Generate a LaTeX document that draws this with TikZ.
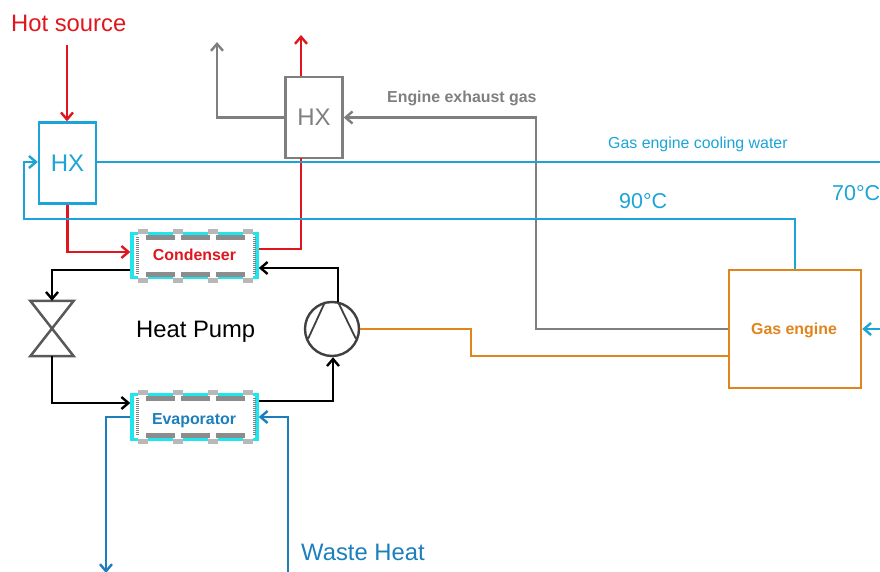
\documentclass[tikz,border=0pt]{standalone}
\usepackage{fontspec}
\setmainfont{Liberation Sans}
\usetikzlibrary{arrows.meta}
\definecolor{hotred}{HTML}{E0161E}
\definecolor{coolblue}{HTML}{1CA3D8}
\definecolor{wasteblue}{HTML}{1C7FBC}
\definecolor{exhaustgray}{HTML}{7F7F7F}
\definecolor{engineorange}{HTML}{E0851E}
\definecolor{hexcyan}{HTML}{22E4EC}
\tikzset{
  pipe/.style={line width=2.4pt, line join=miter, >={Straight Barb[length=7pt, width=12pt, line width=2.4pt]}},
  hxbox/.style={draw, line width=2.4pt, rectangle, inner sep=0pt,
    minimum width=57pt, minimum height=81pt},
  hexbox/.style={draw=hexcyan, fill=white, line width=3.5pt, rectangle, inner sep=0pt,
    minimum width=125pt},
  bigtext/.style={inner sep=0pt, font=\fontsize{23.8}{27}\selectfont},
  midtext/.style={inner sep=0pt, font=\fontsize{21.5}{24}\selectfont},
  smalltext/.style={inner sep=0pt, font=\fontsize{15.9}{18}\selectfont},
  boldtext/.style={inner sep=0pt, font=\bfseries\fontsize{15.9}{18}\selectfont}
}
\newcommand{\hexdetail}[3]{
  \begin{scope}[shift={(#1.center)}]
    \foreach \tabx in {-52,-17,18,53} {
      \fill[white] (\tabx-5,-#2) rectangle (\tabx+5,#3);
      \fill[black!28] (\tabx-5,-#2-5) rectangle (\tabx+5,-#2);
      \fill[black!28] (\tabx-5,#3) rectangle (\tabx+5,#3+5);
    }
    \foreach \barx in {-49,-14,21} {
      \fill[black!45] (\barx,-#2+1) rectangle (\barx+29,-#2+6);
      \fill[black!45] (\barx,#3-6) rectangle (\barx+29,#3-1);
    }
    \draw[black!50, line width=3pt, dash pattern=on 1pt off 1pt]
      (-57,-#2+3) -- (-57,#3-3);
    \draw[black!50, line width=3pt, dash pattern=on 1pt off 1pt]
      (60,-#2+3) -- (60,#3-3);
  \end{scope}
}
\begin{document}
\begin{tikzpicture}[x=1pt, y=-1pt]
\useasboundingbox (0,0) rectangle (880,572);

\node[hxbox, draw=coolblue, text=coolblue, font=\fontsize{24}{28}\selectfont] (hxhot) at (67.5,163) {HX};
\node[hxbox, draw=exhaustgray, text=exhaustgray, font=\fontsize{24}{28}\selectfont] (hxgas) at (314,117.5) {HX};
\node[hexbox, minimum height=44pt] (condenser) at (194.5,255.5) {};
\node[hexbox, minimum height=45pt] (evaporator) at (194.5,417) {};
\hexdetail{condenser}{22}{22}
\hexdetail{evaporator}{22}{22}
\node[boldtext, text=hotred] (condname) at (194.5,255) {Condenser};
\node[boldtext, text=wasteblue] (evapname) at (194,421) {Evaporator};
\node[draw=engineorange, line width=2.4pt, rectangle, inner sep=0pt,
   minimum width=132pt,
   minimum height=118pt] (engine) at (795,329) {};
\node[boldtext, text=engineorange] (enginename) at (794,330) {Gas engine};
\node[draw=black!75, line width=2.4pt, circle, inner sep=0pt,
   minimum size=54pt] (compressor) at (332,329) {};
\node[inner sep=0pt,
   minimum width=43pt,
   minimum height=55pt] (valve) at (52,328.5) {};

\node[bigtext, text=hotred, anchor=west] (hotsource) at (11,23) {Hot source};
\node[bigtext, anchor=west] (heatpump) at (136,332) {Heat Pump};
\node[bigtext, text=wasteblue, anchor=west] (wasteheat) at (301,552) {Waste Heat};
\node[boldtext, text=exhaustgray, anchor=west] (exhaustname) at (387,98) {Engine exhaust gas};
\node[smalltext, text=coolblue, anchor=west] (coolingname) at (608,144) {Gas engine cooling water};
\node[midtext, text=coolblue, anchor=west] (hottemp) at (619,201) {90°C};
\node[midtext, text=coolblue, anchor=west] (coldtemp) at (832,193) {70°C};

\coordinate (hotin) at (67,45);
\coordinate (hotout) at (301,35);
\coordinate (gasout) at (217,42);
\coordinate (coolright) at (880,162);
\coordinate (coolin) at (880,329);
\coordinate (wasteout) at (106,573);
\coordinate (wastein) at (288,572);

\draw[black!65, line width=2.5pt, line join=miter] (valve.north west) -- (valve.north east)
  -- (valve.south west) -- (valve.south east) -- cycle;
\draw[black!75, line width=1.8pt] (325,302) -- (308,339);
\draw[black!75, line width=1.8pt] (338,302) -- (356,339);

\draw[pipe, ->, hotred] (hotin) -- (hotin |- hxhot.north);
\draw[pipe, ->, hotred] (hxhot.south) -- (67.5,252) -- (condenser.west |- 0,252);
\draw[pipe, hotred] (condenser.east |- 0,249) -- (301,249) -- (301,158);
\draw[pipe, ->, hotred] (hotout |- hxgas.north) -- (hotout);
\draw[pipe, ->, exhaustgray] (hxgas.west) -| (gasout);
\draw[pipe, ->, exhaustgray] (engine.west) -- (536,329) -- (536,117.5) -- (hxgas.east);
\draw[pipe, coolblue] (hxhot.east |- coolright) -- (coolright);
\draw[pipe, ->, coolblue] (engine.north) -- (795,219) -- (24,219) -- (24,162) -- (hxhot.west |- 0,162);
\draw[pipe, ->, coolblue] (coolin) -- (engine.east);
\draw[pipe, engineorange] (compressor.east) -- (471,329) -- (471,356) -- (engine.west |- 0,356);
\draw[pipe, ->, black] (condenser.west |- 0,270) -- (52,270) -- (valve.north);
\draw[pipe, ->, black] (valve.south) -- (52,403) -- (evaporator.west |- 0,403);
\draw[pipe, ->, black] (evaporator.east |- 0,401) -- (333,401) -- (compressor.south -| 333,0);
\draw[pipe, ->, black] (338,302) -- (338,268) -- (condenser.east |- 0,268);
\draw[pipe, ->, wasteblue] (evaporator.west) -- (106,417) -- (wasteout);
\draw[pipe, ->, wasteblue] (wastein) -- (288,417) -- (evaporator.east);
\end{tikzpicture}
\end{document}
